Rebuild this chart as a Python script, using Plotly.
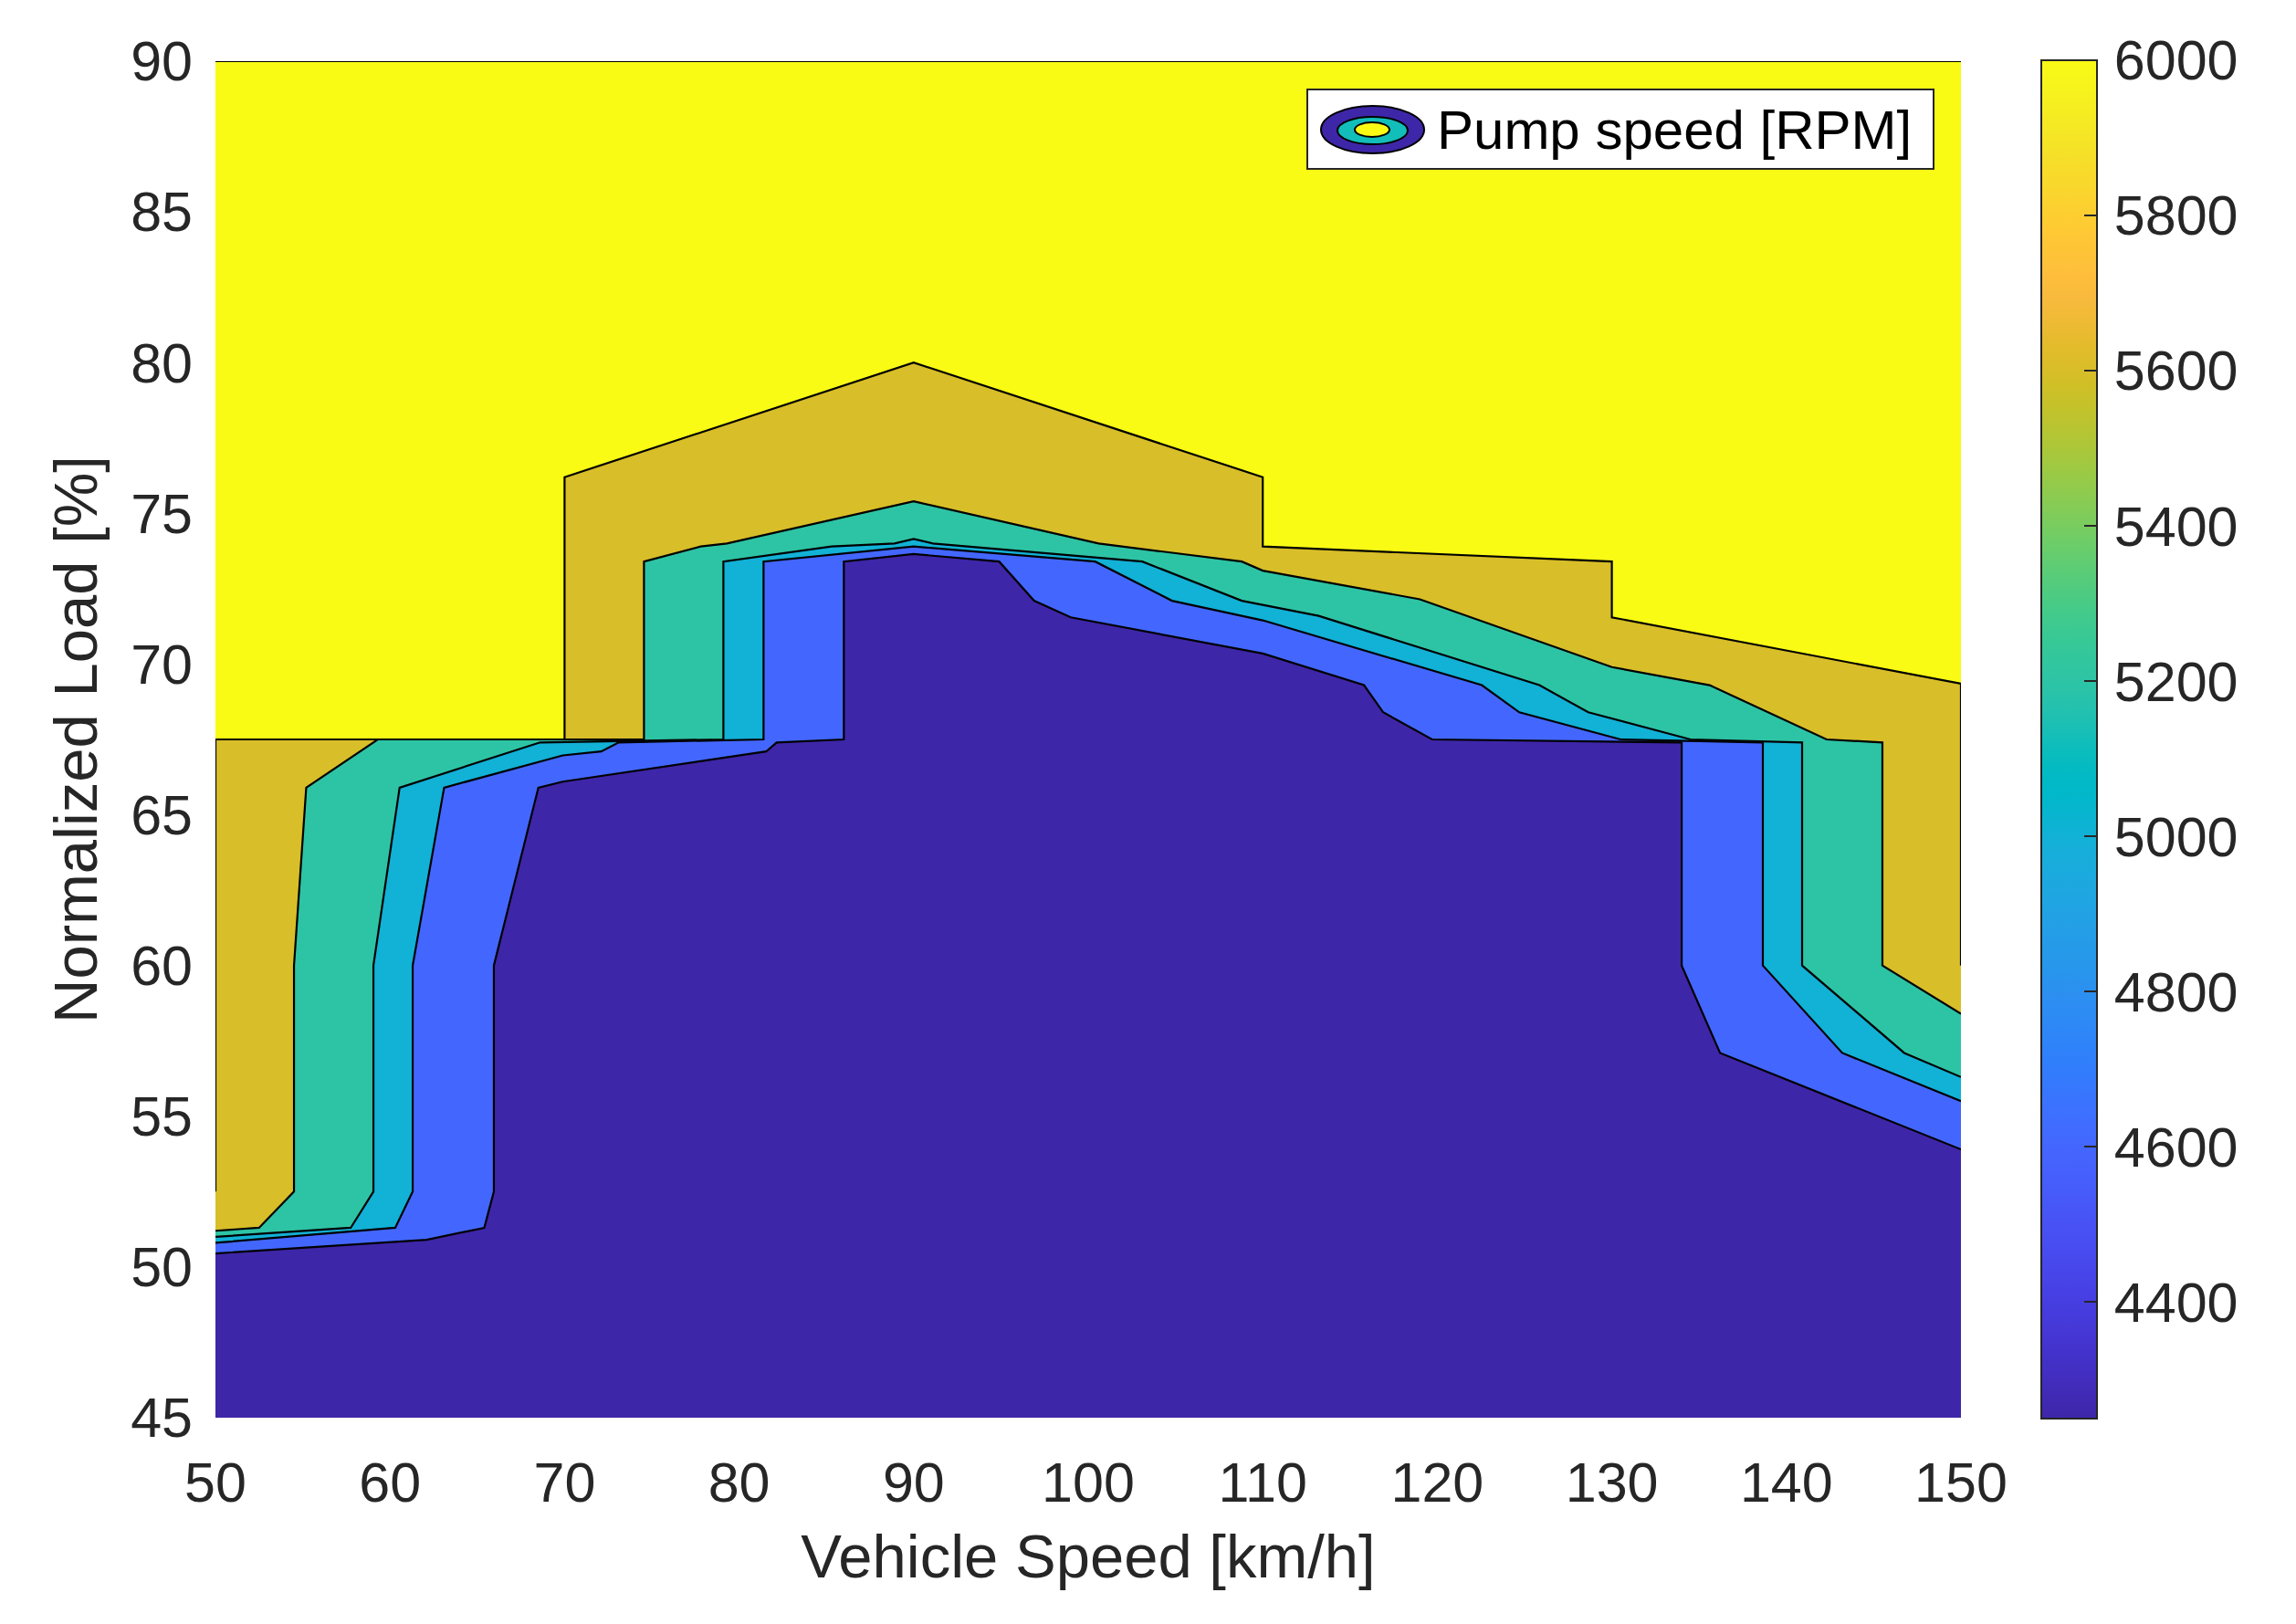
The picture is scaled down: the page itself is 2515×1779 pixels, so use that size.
import plotly.graph_objects as go
from plotly.colors import sample_colorscale

# ---------------- data ----------------
X_MIN, X_MAX = 50, 150
Y_MIN, Y_MAX = 45, 90
X_TICKS = [50, 60, 70, 80, 90, 100, 110, 120, 130, 140, 150]
Y_TICKS = [45, 50, 55, 60, 65, 70, 75, 80, 85, 90]
CB_TICKS = [4400, 4600, 4800, 5000, 5200, 5400, 5600, 5800, 6000]
C_MIN, C_MAX = 4250, 6000

# contour levels (band colour = lower bound of band)
LEVELS = [4250, 4600, 5000, 5200, 5600, 6000]

# upper boundary of each band (speed [km/h], load [%])
gold_x = [50, 50, 70, 70, 90, 110, 110, 130, 130, 150, 150]
gold_y = [52.5, 67.5, 67.5, 76.2, 80.0, 76.2, 73.9, 73.4, 71.55, 69.35, 60.0]

teal_x = [50, 52.5, 54.5, 54.5, 55.2, 59.3, 74.55, 74.55, 77.8, 79.3, 90, 100.6, 108.8,
          110.0, 119.0, 130.0, 135.6, 142.3, 145.5, 145.5, 150]
teal_y = [51.2, 51.3, 52.5, 60.0, 65.9, 67.5, 67.5, 73.4, 73.9, 74.0, 75.4, 74.0, 73.4,
          73.1, 72.15, 69.9, 69.3, 67.5, 67.4, 60.0, 58.4]

cyan_x = [50, 57.75, 59.05, 59.05, 60.55, 68.6, 79.1, 79.1, 85.3, 88.9, 90, 91.1, 103.1,
          108.8, 113.2, 125.85, 128.65, 134.5, 140.9, 140.9, 146.75, 150]
cyan_y = [51.0, 51.3, 52.5, 60.0, 65.9, 67.4, 67.5, 73.4, 73.9, 74.0, 74.15, 74.0, 73.4,
          72.1, 71.6, 69.3, 68.4, 67.5, 67.4, 60.0, 57.1, 56.3]

blue_x = [50, 60.3, 61.3, 61.3, 63.1, 69.9, 72.1, 73.1, 81.4, 81.4, 90, 100.4, 104.8,
          110.0, 122.55, 124.7, 130.5, 138.65, 138.65, 143.2, 150]
blue_y = [50.8, 51.3, 52.5, 60.0, 65.9, 66.97, 67.1, 67.4, 67.5, 73.4, 73.9, 73.4, 72.1,
          71.45, 69.3, 68.4, 67.5, 67.4, 60.0, 57.1, 55.5]

indigo_x = [50, 62.1, 65.4, 65.95, 65.95, 68.5, 69.9, 81.55, 82.15, 86.0, 86.0, 90, 94.9,
            96.9, 99.0, 110.0, 115.8, 116.9, 119.7, 134.0, 134.0, 136.2, 150]
indigo_y = [50.45, 50.9, 51.3, 52.5, 60.0, 65.9, 66.1, 67.1, 67.4, 67.5, 73.4, 73.65, 73.4,
            72.1, 71.55, 70.35, 69.3, 68.4, 67.5, 67.4, 60.0, 57.1, 53.9]

# MATLAB parula (R2014b) colormap
PARULA_RGB = [
    (0.2422, 0.1504, 0.6603), (0.2504, 0.1650, 0.7076), (0.2578, 0.1818, 0.7511),
    (0.2647, 0.1978, 0.7952), (0.2706, 0.2147, 0.8364), (0.2751, 0.2342, 0.8710),
    (0.2783, 0.2559, 0.8991), (0.2803, 0.2782, 0.9221), (0.2813, 0.3006, 0.9414),
    (0.2810, 0.3228, 0.9579), (0.2795, 0.3447, 0.9717), (0.2760, 0.3667, 0.9829),
    (0.2699, 0.3892, 0.9906), (0.2602, 0.4123, 0.9952), (0.2440, 0.4358, 0.9988),
    (0.2206, 0.4603, 0.9973), (0.1963, 0.4847, 0.9892), (0.1834, 0.5074, 0.9798),
    (0.1786, 0.5289, 0.9682), (0.1764, 0.5499, 0.9520), (0.1687, 0.5703, 0.9359),
    (0.1540, 0.5902, 0.9218), (0.1460, 0.6091, 0.9079), (0.1380, 0.6276, 0.8973),
    (0.1248, 0.6459, 0.8883), (0.1113, 0.6635, 0.8763), (0.0952, 0.6798, 0.8598),
    (0.0689, 0.6948, 0.8394), (0.0297, 0.7082, 0.8163), (0.0036, 0.7203, 0.7917),
    (0.0067, 0.7312, 0.7660), (0.0433, 0.7411, 0.7394), (0.0964, 0.7500, 0.7120),
    (0.1408, 0.7584, 0.6842), (0.1717, 0.7670, 0.6554), (0.1938, 0.7758, 0.6251),
    (0.2161, 0.7843, 0.5923), (0.2470, 0.7918, 0.5567), (0.2906, 0.7973, 0.5188),
    (0.3406, 0.8008, 0.4789), (0.3909, 0.8029, 0.4354), (0.4456, 0.8024, 0.3909),
    (0.5044, 0.7993, 0.3480), (0.5616, 0.7942, 0.3045), (0.6174, 0.7876, 0.2612),
    (0.6720, 0.7793, 0.2227), (0.7242, 0.7698, 0.1910), (0.7738, 0.7598, 0.1646),
    (0.8203, 0.7498, 0.1535), (0.8634, 0.7406, 0.1596), (0.9035, 0.7330, 0.1774),
    (0.9393, 0.7288, 0.2100), (0.9728, 0.7298, 0.2394), (0.9956, 0.7434, 0.2371),
    (0.9970, 0.7659, 0.2199), (0.9952, 0.7893, 0.2028), (0.9892, 0.8136, 0.1885),
    (0.9786, 0.8386, 0.1766), (0.9676, 0.8639, 0.1643), (0.9610, 0.8890, 0.1537),
    (0.9597, 0.9135, 0.1423), (0.9628, 0.9373, 0.1265), (0.9691, 0.9606, 0.1064),
    (0.9769, 0.9839, 0.0805),
]

# ---------------- styling ----------------
PARULA = [[i / (len(PARULA_RGB) - 1),
           "rgb(%d,%d,%d)" % tuple(round(c * 255) for c in rgb)]
          for i, rgb in enumerate(PARULA_RGB)]


def level_color(v):
    return sample_colorscale(PARULA, [(v - C_MIN) / (C_MAX - C_MIN)])[0]


FONT = "Liberation Sans, Arial, Helvetica, sans-serif"
TXT = "#262626"
W, H = 2515, 1779
L, R, T, B = 236, 367, 67, 226
PW, PH = W - L - R, H - T - B


def px(xpix):
    return (xpix - L) / PW


def py(ypix):
    return (H - B - ypix) / PH


fig = go.Figure()

bands = [(gold_x, gold_y, LEVELS[4]), (teal_x, teal_y, LEVELS[3]),
         (cyan_x, cyan_y, LEVELS[2]), (blue_x, blue_y, LEVELS[1]),
         (indigo_x, indigo_y, LEVELS[0])]

# filled bands (cumulative: each polygon = area below its boundary)
for bx, by, lvl in bands:
    fig.add_trace(go.Scatter(
        x=list(bx) + [X_MAX, X_MIN], y=list(by) + [Y_MIN, Y_MIN],
        mode="lines", fill="toself", fillcolor=level_color(lvl),
        line=dict(width=0), hoverinfo="skip", showlegend=False))

# contour lines on top
for bx, by, lvl in bands:
    fig.add_trace(go.Scatter(
        x=bx, y=by, mode="lines", line=dict(color="black", width=2.2),
        hoverinfo="skip", showlegend=False))
fig.add_trace(go.Scatter(x=[X_MIN, X_MAX], y=[Y_MAX, Y_MAX], mode="lines",
                         line=dict(color="black", width=2), hoverinfo="skip",
                         showlegend=False))

# colorbar carrier
fig.add_trace(go.Scatter(
    x=[None, None], y=[None, None], mode="markers", showlegend=False,
    marker=dict(color=[C_MIN, C_MAX], cmin=C_MIN, cmax=C_MAX, colorscale=PARULA,
                showscale=True,
                colorbar=dict(
                    x=px(2236), xanchor="left", xpad=0, y=0.5, yanchor="middle",
                    ypad=0, len=(1555 - 67) / PH, lenmode="fraction",
                    thickness=61, thicknessmode="pixels",
                    outlinecolor=TXT, outlinewidth=2,
                    tickvals=CB_TICKS, ticktext=["\u200a" + str(v) for v in CB_TICKS],
                    ticks="inside", ticklen=15, tickwidth=2, tickcolor=TXT,
                    tickfont=dict(family=FONT, size=61, color=TXT)))))

fig.update_layout(
    width=W, height=H, margin=dict(l=L, r=R, t=T, b=B),
    paper_bgcolor="white", plot_bgcolor=level_color(LEVELS[5]),
    font=dict(family=FONT, color=TXT),
    xaxis=dict(range=[X_MIN, X_MAX], tickvals=X_TICKS, showgrid=False,
               zeroline=False, showline=False, ticks="",
               tickfont=dict(family=FONT, size=61, color=TXT),
               ticklabelstandoff=30,
               title=dict(text="Vehicle Speed [km/h]", standoff=24,
                          font=dict(family=FONT, size=67, color=TXT))),
    yaxis=dict(range=[Y_MIN, Y_MAX], tickvals=Y_TICKS, showgrid=False,
               zeroline=False, showline=False, ticks="",
               tickfont=dict(family=FONT, size=61, color=TXT),
               ticklabelstandoff=24,
               title=dict(text="Normalized Load [%]", standoff=14,
                          font=dict(family=FONT, size=67, color=TXT))),
)

# legend box drawn manually (contour-style icon)
shapes = [
    dict(type="rect", xref="paper", yref="paper", x0=px(1432), x1=px(2118),
         y0=py(185), y1=py(98), fillcolor="white", line=dict(color=TXT, width=2)),
    dict(type="circle", xref="paper", yref="paper", x0=px(1447), x1=px(1560),
         y0=py(168), y1=py(116), fillcolor=level_color(C_MIN),
         line=dict(color="black", width=2)),
    dict(type="circle", xref="paper", yref="paper", x0=px(1465), x1=px(1542),
         y0=py(158), y1=py(128), fillcolor=level_color((C_MIN + C_MAX) / 2),
         line=dict(color="black", width=2)),
    dict(type="circle", xref="paper", yref="paper", x0=px(1484), x1=px(1522),
         y0=py(150), y1=py(134), fillcolor=level_color(C_MAX),
         line=dict(color="black", width=2)),
]
fig.update_layout(shapes=shapes)
fig.add_annotation(xref="paper", yref="paper", x=px(1572), y=py(142),
                   xanchor="left", yanchor="middle", showarrow=False,
                   text="Pump speed [RPM]",
                   font=dict(family=FONT, size=60, color="black"))

fig.write_html("out.html", config={"displayModeBar": False},
               post_script="document.body.style.margin='0';")
